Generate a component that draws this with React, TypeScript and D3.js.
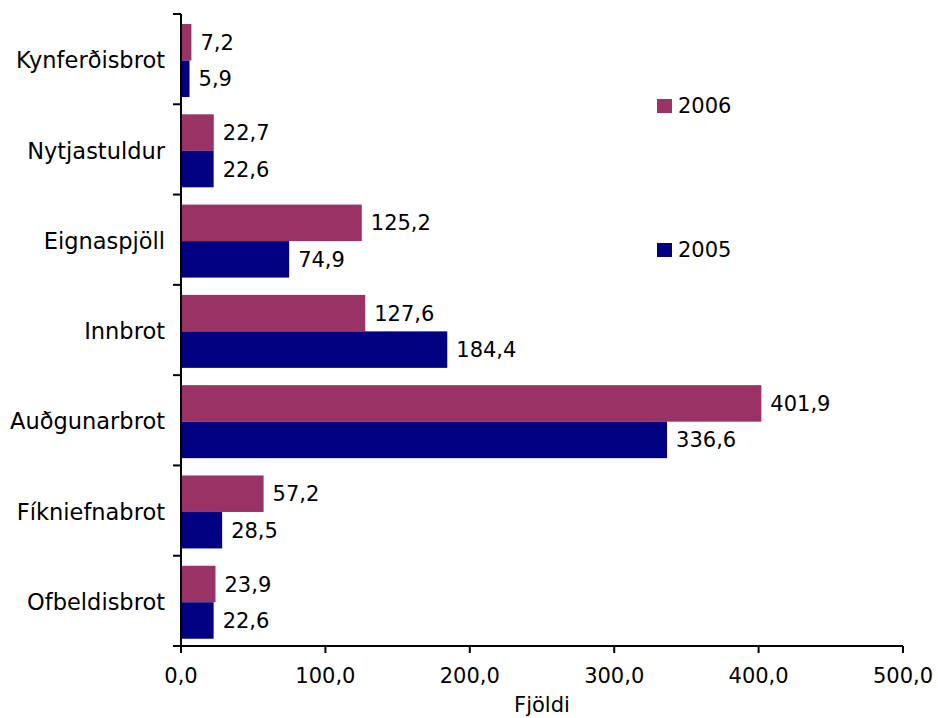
import React from "react";
import * as d3 from "d3";

const categories = ["Kynferðisbrot", "Nytjastuldur", "Eignaspjöll", "Innbrot", "Auðgunarbrot", "Fíkniefnabrot", "Ofbeldisbrot"];
const values2006 = [7.2, 22.7, 125.2, 127.6, 401.9, 57.2, 23.9];
const values2005 = [5.9, 22.6, 74.9, 184.4, 336.6, 28.5, 22.6];
const seriesNames = ["2006", "2005"];
const seriesColors = ["#993366", "#000080"];
const xTicks = [0, 100, 200, 300, 400, 500];
const axisTitle = "Fjöldi";

const W = 938;
const H = 718;
const M = { left: 181, right: 35, top: 14, bottom: 72 };
const FONT = "'DejaVu Sans', Verdana, sans-serif";
const FS = 21;
const FS_CAT = 22.5;

const fmt = (v: number) => v.toFixed(1).replace(".", ",");

export default function App() {
  const x = d3.scaleLinear().domain([0, 500]).range([M.left, W - M.right]);
  const y = d3.scaleBand<string>().domain(categories).range([M.top, H - M.bottom]).paddingInner(0).paddingOuter(0);
  const inner = d3.scaleBand<string>().domain(seriesNames).range([0, y.bandwidth()]).paddingOuter(0.237).paddingInner(0).align(0.58);
  const series = [values2006, values2005];
  const bottom = H - M.bottom;
  const bandEdges = categories.map((c) => y(c) as number).concat([bottom]);

  return (
    <svg width={W} height={H} style={{ position: "absolute", left: 0, top: 0, background: "#fff" }} fontFamily={FONT}>
      <rect x={0} y={0} width={W} height={H} fill="#fff" />
      {categories.map((c, i) =>
        series.map((vals, s) => {
          const y0 = (y(c) as number) + (inner(seriesNames[s]) as number);
          const bh = inner.bandwidth();
          return (
            <g key={c + s}>
              <rect x={x(0)} y={y0} width={x(vals[i]) - x(0)} height={bh} fill={seriesColors[s]} />
              <text x={x(vals[i]) + 9} y={y0 + bh / 2} dy="0.36em" fontSize={FS} fill="#000">
                {fmt(vals[i])}
              </text>
            </g>
          );
        })
      )}
      {/* y axis */}
      <line x1={x(0)} x2={x(0)} y1={M.top} y2={bottom} stroke="#000" strokeWidth={2} />
      {bandEdges.map((e, i) => (
        <line key={i} x1={x(0) - 8} x2={x(0)} y1={e} y2={e} stroke="#000" strokeWidth={2} />
      ))}
      {categories.map((c) => (
        <text key={c} x={165} y={(y(c) as number) + y.bandwidth() / 2 + 1} dy="0.36em" textAnchor="end" fontSize={FS_CAT} fill="#000">
          {c}
        </text>
      ))}
      {/* x axis */}
      <line x1={x(0) - 8} x2={x(500)} y1={bottom} y2={bottom} stroke="#000" strokeWidth={2} />
      {xTicks.map((t) => (
        <g key={t}>
          <line x1={x(t)} x2={x(t)} y1={bottom} y2={bottom + 7} stroke="#000" strokeWidth={2} />
          <text x={x(t)} y={683} textAnchor="middle" fontSize={FS} fill="#000">
            {fmt(t)}
          </text>
        </g>
      ))}
      <text x={(x(0) + x(500)) / 2} y={712} textAnchor="middle" fontSize={FS} fill="#000">
        {axisTitle}
      </text>
      {/* legend */}
      {seriesNames.map((n, i) => (
        <g key={n} transform={`translate(657, ${i === 0 ? 99 : 243})`}>
          <rect x={0} y={0} width={15} height={14} fill={seriesColors[i]} />
          <text x={21} y={14} fontSize={FS} fill="#000">
            {n}
          </text>
        </g>
      ))}
    </svg>
  );
}
